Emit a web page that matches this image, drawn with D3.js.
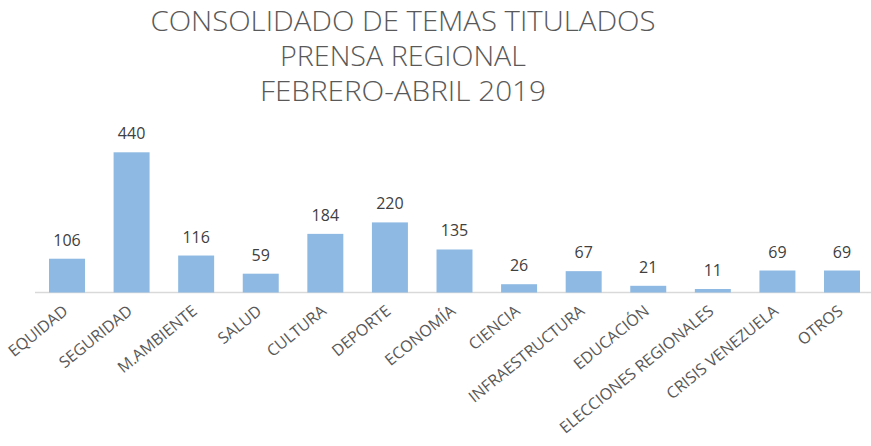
<!DOCTYPE html>
<html>
<head>
<meta charset="utf-8">
<script src="https://cdn.jsdelivr.net/npm/d3@7"></script>
<style>
  body { margin: 0; background: #fff; }
  text { font-family: "Open Sans", "Liberation Sans", sans-serif; }
</style>
</head>
<body>
<div id="chart"></div>
<script>
var titleLines = ["CONSOLIDADO DE TEMAS TITULADOS", "PRENSA REGIONAL", "FEBRERO-ABRIL 2019"];
var categories = ["EQUIDAD", "SEGURIDAD", "M.AMBIENTE", "SALUD", "CULTURA", "DEPORTE", "ECONOMÍA",
                  "CIENCIA", "INFRAESTRUCTURA", "EDUCACIÓN", "ELECCIONES REGIONALES", "CRISIS VENEZUELA", "OTROS"];
var values = [106, 440, 116, 59, 184, 220, 135, 26, 67, 21, 11, 69, 69];

var width = 871,
    height = 446;

var svg = d3.select("#chart")
    .append("svg")
    .attr("width", width)
    .attr("height", height);

// title, widths
var titleY = [31, 66, 101],
    titleW = [505, 246, 286];
svg.selectAll(".title")
    .data(titleLines)
    .enter().append("text")
    .attr("class", "title")
    .attr("x", 403)
    .attr("y", function(d, i) { return titleY[i]; })
    .attr("text-anchor", "middle")
    .attr("font-size", 28)
    .attr("font-weight", 300)
    .attr("fill", "#595959")
    .attr("textLength", function(d, i) { return titleW[i]; })
    .attr("lengthAdjust", "spacingAndGlyphs")
    .text(function(d) { return d; });

var x = d3.scaleBand()
    .domain(categories)
    .range([34.7, 874.3])
    .paddingInner(0.443)
    .paddingOuter(0.2215);

var y = d3.scaleLinear()
    .domain([0, 440])
    .range([292.5, 152.3]);

svg.append("line")
    .attr("x1", 35)
    .attr("x2", 871)
    .attr("y1", 292.5)
    .attr("y2", 292.5)
    .attr("stroke", "#d9d9d9")
    .attr("stroke-width", 1.5);

svg.selectAll(".bar")
    .data(values)
    .enter().append("rect")
    .attr("class", "bar")
    .attr("x", function(d, i) { return x(categories[i]); })
    .attr("width", x.bandwidth())
    .attr("y", function(d) { return y(d); })
    .attr("height", function(d) { return y(0) - y(d); })
    .attr("fill", "#8db9e2");

svg.selectAll(".val")
    .data(values)
    .enter().append("text")
    .attr("class", "val")
    .attr("x", function(d, i) { return x(categories[i]) + x.bandwidth() / 2; })
    .attr("y", function(d) { return y(d) - 13; })
    .attr("text-anchor", "middle")
    .attr("font-size", 16)
    .attr("fill", "#404040")
    .text(function(d) { return d; });

svg.selectAll(".cat")
    .data(categories)
    .enter().append("text")
    .attr("class", "cat")
    .attr("text-anchor", "end")
    .attr("font-size", 16)
    .attr("fill", "#595959")
    .attr("transform", function(d) {
        return "translate(" + (x(d) + x.bandwidth() / 2 + 2) + ",313) rotate(-39)";
    })
    .text(function(d) { return d; });
</script>
</body>
</html>
